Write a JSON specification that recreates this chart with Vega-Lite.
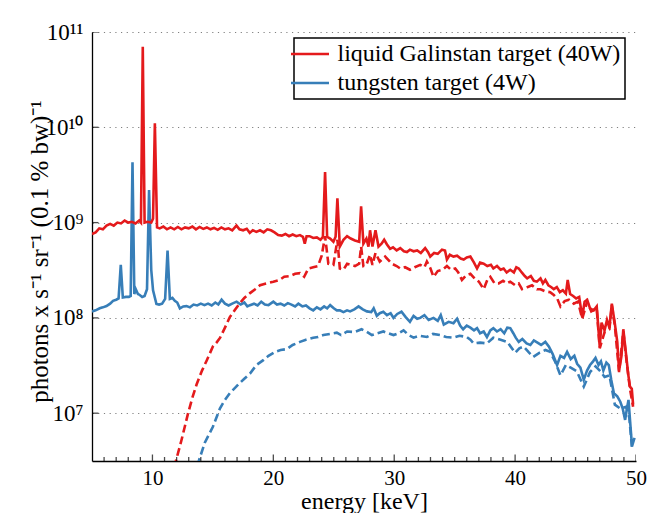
{
  "$schema": "https://vega.github.io/schema/vega-lite/v6.json",
  "autosize": {"type": "none"},
  "padding": {"left": 92, "top": 32, "right": 15, "bottom": 52},
  "width": 544,
  "height": 429,
  "background": "white",
  "config": {
    "font": "Liberation Serif",
    "view": {"stroke": null},
    "axis": {"labelFont": "Liberation Serif", "titleFont": "Liberation Serif"},
    "legend": {"labelFont": "Liberation Serif", "titleFont": "Liberation Serif"}
  },
  "datasets": {
    "ga_solid": [
      {"energy":5.0,"flux":7.6e8},{"energy":5.3,"flux":7.9e8},{"energy":5.6,"flux":8.7e8},{"energy":5.9,"flux":8.5e8},{"energy":6.2,"flux":9.3e8},{"energy":6.5,"flux":9.7e8},{"energy":6.8,"flux":9.3e8},{"energy":7.1,"flux":1.0e9},{"energy":7.4,"flux":9.8e8},{"energy":7.7,"flux":1.05e9},{"energy":8.0,"flux":1.0e9},{"energy":8.3,"flux":1.02e9},{"energy":8.6,"flux":9.8e8},{"energy":8.9,"flux":1.05e9},{"energy":9.05,"flux":1.0e9},{"energy":9.2,"flux":7.0e10},{"energy":9.35,"flux":1.0e9},{"energy":9.6,"flux":1.02e9},{"energy":9.9,"flux":1.0e9},{"energy":10.05,"flux":1.1e9},{"energy":10.2,"flux":1.1e10},{"energy":10.38,"flux":8.9e8},{"energy":10.6,"flux":8.7e8},{"energy":10.9,"flux":9.1e8},{"energy":11.2,"flux":8.5e8},{"energy":11.5,"flux":8.9e8},{"energy":11.8,"flux":8.5e8},{"energy":12.1,"flux":9.0e8},{"energy":12.4,"flux":8.5e8},{"energy":12.7,"flux":8.9e8},{"energy":13.0,"flux":8.7e8},{"energy":13.3,"flux":9.1e8},{"energy":13.6,"flux":8.5e8},{"energy":13.9,"flux":9.0e8},{"energy":14.2,"flux":8.6e8},{"energy":14.5,"flux":8.9e8},{"energy":14.8,"flux":8.5e8},{"energy":15.1,"flux":8.8e8},{"energy":15.4,"flux":8.4e8},{"energy":15.7,"flux":8.9e8},{"energy":16.0,"flux":8.5e8},{"energy":16.3,"flux":8.7e8},{"energy":16.6,"flux":8.3e8},{"energy":16.95,"flux":9.3e8},{"energy":17.2,"flux":8.5e8},{"energy":17.5,"flux":8.3e8},{"energy":17.8,"flux":8.6e8},{"energy":18.05,"flux":7.8e8},{"energy":18.3,"flux":8.3e8},{"energy":18.6,"flux":8.0e8},{"energy":18.9,"flux":8.3e8},{"energy":19.2,"flux":7.9e8},{"energy":19.5,"flux":8.5e8},{"energy":19.8,"flux":8.3e8},{"energy":20.1,"flux":7.9e8},{"energy":20.4,"flux":7.4e8},{"energy":20.7,"flux":7.3e8},{"energy":21.0,"flux":7.6e8},{"energy":21.3,"flux":7.2e8},{"energy":21.6,"flux":7.5e8},{"energy":21.9,"flux":7.2e8},{"energy":22.2,"flux":7.4e8},{"energy":22.45,"flux":7.1e8},{"energy":22.6,"flux":6.0e8},{"energy":22.75,"flux":7.2e8},{"energy":23.0,"flux":7.2e8},{"energy":23.3,"flux":6.9e8},{"energy":23.6,"flux":7.0e8},{"energy":23.9,"flux":6.6e8},{"energy":24.1,"flux":7.1e8},{"energy":24.28,"flux":3.4e9},{"energy":24.45,"flux":7.1e8},{"energy":24.7,"flux":6.8e8},{"energy":24.97,"flux":6.3e8},{"energy":25.15,"flux":7.1e8},{"energy":25.3,"flux":1.8e9},{"energy":25.5,"flux":5.6e8},{"energy":25.8,"flux":6.6e8},{"energy":26.1,"flux":7.2e8},{"energy":26.4,"flux":6.8e8},{"energy":26.75,"flux":6.5e8},{"energy":27.1,"flux":6.3e8},{"energy":27.26,"flux":1.48e9},{"energy":27.45,"flux":6.0e8},{"energy":27.7,"flux":6.8e8},{"energy":27.87,"flux":5.6e8},{"energy":28.0,"flux":8.3e8},{"energy":28.2,"flux":5.6e8},{"energy":28.45,"flux":8.3e8},{"energy":28.7,"flux":5.6e8},{"energy":28.95,"flux":6.0e8},{"energy":29.17,"flux":6.6e8},{"energy":29.4,"flux":5.9e8},{"energy":29.66,"flux":5.3e8},{"energy":29.9,"flux":5.5e8},{"energy":30.2,"flux":5.1e8},{"energy":30.5,"flux":5.4e8},{"energy":30.8,"flux":5.0e8},{"energy":31.05,"flux":4.9e8},{"energy":31.3,"flux":5.2e8},{"energy":31.6,"flux":5.0e8},{"energy":31.9,"flux":5.1e8},{"energy":32.2,"flux":4.8e8},{"energy":32.56,"flux":5.4e8},{"energy":32.8,"flux":4.9e8},{"energy":32.98,"flux":4.4e8},{"energy":33.3,"flux":4.8e8},{"energy":33.6,"flux":4.7e8},{"energy":33.95,"flux":5.2e8},{"energy":34.2,"flux":5.1e8},{"energy":34.36,"flux":4.1e8},{"energy":34.6,"flux":4.6e8},{"energy":34.9,"flux":4.4e8},{"energy":35.2,"flux":4.5e8},{"energy":35.5,"flux":4.2e8},{"energy":35.75,"flux":4.1e8},{"energy":36.0,"flux":4.3e8},{"energy":36.3,"flux":4.4e8},{"energy":36.6,"flux":3.8e8},{"energy":36.85,"flux":3.3e8},{"energy":37.1,"flux":3.8e8},{"energy":37.4,"flux":3.7e8},{"energy":37.7,"flux":3.5e8},{"energy":38.0,"flux":3.6e8},{"energy":38.2,"flux":3.3e8},{"energy":38.5,"flux":3.5e8},{"energy":38.8,"flux":3.2e8},{"energy":39.05,"flux":3.3e8},{"energy":39.3,"flux":3.0e8},{"energy":39.6,"flux":3.2e8},{"energy":39.9,"flux":3.0e8},{"energy":40.1,"flux":3.4e8},{"energy":40.3,"flux":3.3e8},{"energy":40.55,"flux":3.0e8},{"energy":40.8,"flux":2.75e8},{"energy":41.0,"flux":2.6e8},{"energy":41.3,"flux":2.75e8},{"energy":41.55,"flux":2.45e8},{"energy":41.8,"flux":2.4e8},{"energy":42.1,"flux":2.6e8},{"energy":42.3,"flux":2.3e8},{"energy":42.5,"flux":2.5e8},{"energy":42.75,"flux":2.2e8},{"energy":43.0,"flux":2.1e8},{"energy":43.2,"flux":2.0e8},{"energy":43.45,"flux":2.1e8},{"energy":43.7,"flux":1.86e8},{"energy":43.95,"flux":1.95e8},{"energy":44.2,"flux":1.8e8},{"energy":44.35,"flux":2.5e8},{"energy":44.55,"flux":1.78e8},{"energy":44.8,"flux":1.7e8},{"energy":45.05,"flux":1.6e8},{"energy":45.3,"flux":1.66e8},{"energy":45.55,"flux":1.02e8},{"energy":45.75,"flux":1.48e8},{"energy":45.96,"flux":1.55e8},{"energy":46.2,"flux":1.26e8},{"energy":46.5,"flux":1.2e8},{"energy":46.75,"flux":1.32e8},{"energy":47.0,"flux":5.0e7},{"energy":47.15,"flux":8.9e7},{"energy":47.4,"flux":7.4e7},{"energy":47.6,"flux":9.5e7},{"energy":47.8,"flux":7.9e7},{"energy":48.0,"flux":1.41e8},{"energy":48.25,"flux":8.7e7},{"energy":48.45,"flux":5.6e7},{"energy":48.6,"flux":2.8e7},{"energy":48.8,"flux":4.0e7},{"energy":48.95,"flux":7.6e7},{"energy":49.2,"flux":3.9e7},{"energy":49.35,"flux":2.6e7},{"energy":49.5,"flux":1.9e7},{"energy":49.65,"flux":1.8e7},{"energy":49.76,"flux":1.23e7}
    ],
    "ga_dashed": [
      {"energy":11.8,"flux":2.7e6},{"energy":12.4,"flux":5.2e6},{"energy":12.95,"flux":1.0e7},{"energy":13.3,"flux":1.45e7},{"energy":13.65,"flux":2.0e7},{"energy":14.1,"flux":2.8e7},{"energy":14.5,"flux":3.6e7},{"energy":15.0,"flux":5.0e7},{"energy":15.3,"flux":5.5e7},{"energy":15.6,"flux":6.2e7},{"energy":16.0,"flux":7.9e7},{"energy":16.4,"flux":1.02e8},{"energy":16.8,"flux":1.2e8},{"energy":17.2,"flux":1.41e8},{"energy":17.6,"flux":1.62e8},{"energy":18.07,"flux":1.82e8},{"energy":18.5,"flux":2.0e8},{"energy":18.9,"flux":2.2e8},{"energy":19.4,"flux":2.3e8},{"energy":20.0,"flux":2.4e8},{"energy":20.5,"flux":2.5e8},{"energy":20.9,"flux":2.7e8},{"energy":21.4,"flux":2.75e8},{"energy":21.8,"flux":2.9e8},{"energy":22.2,"flux":2.95e8},{"energy":22.55,"flux":2.7e8},{"energy":22.9,"flux":3.3e8},{"energy":23.3,"flux":3.4e8},{"energy":23.7,"flux":3.5e8},{"energy":24.0,"flux":4.5e8},{"energy":24.28,"flux":7.2e8},{"energy":24.55,"flux":3.7e8},{"energy":24.97,"flux":3.6e8},{"energy":25.3,"flux":6.6e8},{"energy":25.5,"flux":3.3e8},{"energy":25.8,"flux":3.2e8},{"energy":26.1,"flux":3.7e8},{"energy":26.4,"flux":3.6e8},{"energy":26.75,"flux":3.5e8},{"energy":27.1,"flux":3.7e8},{"energy":27.26,"flux":5.6e8},{"energy":27.45,"flux":3.5e8},{"energy":27.7,"flux":3.6e8},{"energy":28.0,"flux":4.6e8},{"energy":28.2,"flux":3.6e8},{"energy":28.45,"flux":4.8e8},{"energy":28.8,"flux":3.9e8},{"energy":29.25,"flux":4.4e8},{"energy":29.8,"flux":3.7e8},{"energy":30.2,"flux":3.5e8},{"energy":30.5,"flux":3.3e8},{"energy":30.9,"flux":3.4e8},{"energy":31.3,"flux":3.2e8},{"energy":31.7,"flux":3.4e8},{"energy":32.15,"flux":3.6e8},{"energy":32.5,"flux":3.4e8},{"energy":32.7,"flux":3.9e8},{"energy":33.0,"flux":3.3e8},{"energy":33.25,"flux":2.7e8},{"energy":33.6,"flux":3.1e8},{"energy":34.0,"flux":3.2e8},{"energy":34.36,"flux":3.5e8},{"energy":34.7,"flux":3.2e8},{"energy":35.05,"flux":3.3e8},{"energy":35.3,"flux":3.0e8},{"energy":35.6,"flux":2.5e8},{"energy":35.95,"flux":2.8e8},{"energy":36.3,"flux":2.9e8},{"energy":36.65,"flux":2.6e8},{"energy":37.0,"flux":2.4e8},{"energy":37.4,"flux":2.0e8},{"energy":37.7,"flux":2.5e8},{"energy":37.95,"flux":2.7e8},{"energy":38.3,"flux":2.3e8},{"energy":38.64,"flux":2.3e8},{"energy":39.0,"flux":2.45e8},{"energy":39.3,"flux":2.3e8},{"energy":39.6,"flux":2.4e8},{"energy":40.0,"flux":2.2e8},{"energy":40.3,"flux":2.3e8},{"energy":40.57,"flux":2.0e8},{"energy":41.0,"flux":2.1e8},{"energy":41.4,"flux":2.2e8},{"energy":41.8,"flux":2.0e8},{"energy":42.1,"flux":2.0e8},{"energy":42.5,"flux":1.9e8},{"energy":42.9,"flux":1.86e8},{"energy":43.2,"flux":1.74e8},{"energy":43.5,"flux":1.58e8},{"energy":43.75,"flux":1.32e8},{"energy":44.1,"flux":1.5e8},{"energy":44.45,"flux":1.55e8},{"energy":44.85,"flux":1.41e8},{"energy":45.2,"flux":1.48e8},{"energy":45.55,"flux":9.8e7},{"energy":45.96,"flux":1.48e8},{"energy":46.3,"flux":1.17e8},{"energy":46.75,"flux":1.26e8},{"energy":47.0,"flux":4.8e7},{"energy":47.4,"flux":7.1e7},{"energy":47.8,"flux":7.6e7},{"energy":48.0,"flux":1.35e8},{"energy":48.25,"flux":8.3e7},{"energy":48.6,"flux":2.7e7},{"energy":48.95,"flux":7.2e7},{"energy":49.2,"flux":3.7e7},{"energy":49.5,"flux":1.8e7},{"energy":49.76,"flux":1.17e7}
    ],
    "w_solid": [
      {"energy":5.0,"flux":1.17e8},{"energy":5.3,"flux":1.2e8},{"energy":5.64,"flux":1.26e8},{"energy":5.9,"flux":1.29e8},{"energy":6.2,"flux":1.33e8},{"energy":6.5,"flux":1.41e8},{"energy":6.74,"flux":1.51e8},{"energy":7.0,"flux":1.55e8},{"energy":7.2,"flux":1.6e8},{"energy":7.38,"flux":3.6e8},{"energy":7.55,"flux":1.64e8},{"energy":7.8,"flux":1.66e8},{"energy":8.05,"flux":1.66e8},{"energy":8.2,"flux":1.7e8},{"energy":8.35,"flux":4.3e9},{"energy":8.5,"flux":1.78e8},{"energy":8.62,"flux":2.0e8},{"energy":8.8,"flux":1.78e8},{"energy":8.95,"flux":1.74e8},{"energy":9.15,"flux":1.66e8},{"energy":9.35,"flux":1.7e8},{"energy":9.55,"flux":2.0e8},{"energy":9.72,"flux":2.2e9},{"energy":9.9,"flux":3.2e8},{"energy":10.05,"flux":1.95e8},{"energy":10.33,"flux":1.4e8},{"energy":10.55,"flux":1.38e8},{"energy":10.8,"flux":1.41e8},{"energy":11.05,"flux":1.58e8},{"energy":11.25,"flux":5.1e8},{"energy":11.44,"flux":1.58e8},{"energy":11.65,"flux":1.62e8},{"energy":11.85,"flux":1.51e8},{"energy":12.05,"flux":1.45e8},{"energy":12.27,"flux":1.26e8},{"energy":12.55,"flux":1.32e8},{"energy":12.82,"flux":1.33e8},{"energy":13.1,"flux":1.29e8},{"energy":13.4,"flux":1.38e8},{"energy":13.7,"flux":1.35e8},{"energy":14.0,"flux":1.41e8},{"energy":14.3,"flux":1.36e8},{"energy":14.6,"flux":1.41e8},{"energy":14.9,"flux":1.35e8},{"energy":15.2,"flux":1.45e8},{"energy":15.45,"flux":1.38e8},{"energy":15.72,"flux":1.55e8},{"energy":16.0,"flux":1.41e8},{"energy":16.3,"flux":1.35e8},{"energy":16.6,"flux":1.41e8},{"energy":16.96,"flux":1.48e8},{"energy":17.3,"flux":1.38e8},{"energy":17.6,"flux":1.45e8},{"energy":17.85,"flux":1.32e8},{"energy":18.07,"flux":1.36e8},{"energy":18.4,"flux":1.41e8},{"energy":18.7,"flux":1.35e8},{"energy":19.0,"flux":1.48e8},{"energy":19.3,"flux":1.38e8},{"energy":19.6,"flux":1.36e8},{"energy":20.0,"flux":1.48e8},{"energy":20.3,"flux":1.38e8},{"energy":20.6,"flux":1.41e8},{"energy":20.9,"flux":1.35e8},{"energy":21.2,"flux":1.43e8},{"energy":21.5,"flux":1.38e8},{"energy":21.8,"flux":1.32e8},{"energy":22.07,"flux":1.41e8},{"energy":22.4,"flux":1.32e8},{"energy":22.7,"flux":1.35e8},{"energy":23.0,"flux":1.26e8},{"energy":23.3,"flux":1.2e8},{"energy":23.6,"flux":1.29e8},{"energy":23.9,"flux":1.23e8},{"energy":24.2,"flux":1.32e8},{"energy":24.45,"flux":1.26e8},{"energy":24.7,"flux":1.36e8},{"energy":25.0,"flux":1.26e8},{"energy":25.25,"flux":1.2e8},{"energy":25.5,"flux":1.2e8},{"energy":25.8,"flux":1.15e8},{"energy":26.1,"flux":1.2e8},{"energy":26.35,"flux":1.17e8},{"energy":26.7,"flux":1.23e8},{"energy":27.05,"flux":1.32e8},{"energy":27.4,"flux":1.23e8},{"energy":27.74,"flux":1.17e8},{"energy":28.1,"flux":1.15e8},{"energy":28.3,"flux":1.26e8},{"energy":28.56,"flux":1.05e8},{"energy":28.8,"flux":1.12e8},{"energy":29.1,"flux":1.16e8},{"energy":29.4,"flux":1.07e8},{"energy":29.7,"flux":1.12e8},{"energy":29.94,"flux":1.0e8},{"energy":30.25,"flux":1.1e8},{"energy":30.6,"flux":1.16e8},{"energy":30.95,"flux":1.02e8},{"energy":31.3,"flux":9.1e7},{"energy":31.6,"flux":1.05e8},{"energy":31.9,"flux":9.8e7},{"energy":32.15,"flux":1.0e8},{"energy":32.5,"flux":1.07e8},{"energy":32.85,"flux":9.5e7},{"energy":33.25,"flux":1.0e8},{"energy":33.6,"flux":9.3e7},{"energy":33.85,"flux":1.07e8},{"energy":34.1,"flux":8.5e7},{"energy":34.5,"flux":9.1e7},{"energy":34.9,"flux":8.8e7},{"energy":35.2,"flux":9.8e7},{"energy":35.45,"flux":8.3e7},{"energy":35.7,"flux":7.6e7},{"energy":36.0,"flux":8.3e7},{"energy":36.3,"flux":7.9e7},{"energy":36.6,"flux":7.4e7},{"energy":36.85,"flux":7.8e7},{"energy":37.1,"flux":6.9e7},{"energy":37.4,"flux":7.2e7},{"energy":37.67,"flux":6.3e7},{"energy":37.95,"flux":7.4e7},{"energy":38.2,"flux":7.8e7},{"energy":38.5,"flux":7.2e7},{"energy":38.8,"flux":7.6e7},{"energy":39.1,"flux":6.9e7},{"energy":39.35,"flux":7.9e7},{"energy":39.6,"flux":7.8e7},{"energy":39.85,"flux":6.9e7},{"energy":40.05,"flux":6.2e7},{"energy":40.3,"flux":5.6e7},{"energy":40.6,"flux":6.0e7},{"energy":40.95,"flux":5.4e7},{"energy":41.26,"flux":5.2e7},{"energy":41.55,"flux":5.8e7},{"energy":41.85,"flux":5.5e7},{"energy":42.15,"flux":5.2e7},{"energy":42.5,"flux":5.6e7},{"energy":42.8,"flux":5.0e7},{"energy":43.1,"flux":4.2e7},{"energy":43.47,"flux":3.2e7},{"energy":43.75,"flux":4.0e7},{"energy":44.05,"flux":3.8e7},{"energy":44.3,"flux":4.4e7},{"energy":44.6,"flux":3.7e7},{"energy":44.9,"flux":4.0e7},{"energy":45.13,"flux":3.3e7},{"energy":45.4,"flux":3.0e7},{"energy":45.68,"flux":2.24e7},{"energy":45.95,"flux":2.8e7},{"energy":46.2,"flux":3.2e7},{"energy":46.45,"flux":3.5e7},{"energy":46.65,"flux":3.8e7},{"energy":46.9,"flux":3.2e7},{"energy":47.1,"flux":3.5e7},{"energy":47.3,"flux":2.8e7},{"energy":47.55,"flux":3.4e7},{"energy":47.75,"flux":3.2e7},{"energy":47.95,"flux":2.24e7},{"energy":48.17,"flux":1.62e7},{"energy":48.45,"flux":1.5e7},{"energy":48.7,"flux":1.32e7},{"energy":48.9,"flux":1.12e7},{"energy":49.1,"flux":8.5e6},{"energy":49.25,"flux":1.12e7},{"energy":49.38,"flux":1.38e7},{"energy":49.55,"flux":7.1e6},{"energy":49.67,"flux":4.5e6},{"energy":49.88,"flux":5.5e6}
    ],
    "w_dashed": [
      {"energy":13.7,"flux":2.8e6},{"energy":14.33,"flux":4.9e6},{"energy":15.0,"flux":7.2e6},{"energy":15.58,"flux":1.12e7},{"energy":16.0,"flux":1.38e7},{"energy":16.4,"flux":1.62e7},{"energy":17.1,"flux":2.0e7},{"energy":17.6,"flux":2.3e7},{"energy":18.07,"flux":2.6e7},{"energy":18.6,"flux":3.2e7},{"energy":19.17,"flux":3.6e7},{"energy":19.6,"flux":4.0e7},{"energy":20.14,"flux":4.4e7},{"energy":20.6,"flux":4.6e7},{"energy":21.1,"flux":4.7e7},{"energy":21.6,"flux":5.2e7},{"energy":22.2,"flux":5.6e7},{"energy":22.7,"flux":5.9e7},{"energy":23.3,"flux":6.2e7},{"energy":23.7,"flux":6.3e7},{"energy":24.14,"flux":6.6e7},{"energy":24.7,"flux":6.8e7},{"energy":25.25,"flux":7.0e7},{"energy":25.6,"flux":6.6e7},{"energy":26.1,"flux":7.2e7},{"energy":26.7,"flux":7.1e7},{"energy":27.3,"flux":7.6e7},{"energy":27.7,"flux":7.2e7},{"energy":28.15,"flux":6.6e7},{"energy":28.6,"flux":6.9e7},{"energy":29.1,"flux":7.2e7},{"energy":29.5,"flux":6.9e7},{"energy":29.94,"flux":6.6e7},{"energy":30.35,"flux":6.9e7},{"energy":30.77,"flux":7.4e7},{"energy":31.2,"flux":6.6e7},{"energy":31.6,"flux":6.2e7},{"energy":32.1,"flux":6.5e7},{"energy":32.7,"flux":6.3e7},{"energy":33.2,"flux":6.8e7},{"energy":33.8,"flux":6.6e7},{"energy":34.3,"flux":6.3e7},{"energy":34.9,"flux":6.2e7},{"energy":35.4,"flux":6.5e7},{"energy":36.0,"flux":6.3e7},{"energy":36.3,"flux":5.9e7},{"energy":36.57,"flux":5.4e7},{"energy":37.1,"flux":5.5e7},{"energy":37.67,"flux":5.4e7},{"energy":38.2,"flux":6.2e7},{"energy":38.8,"flux":5.9e7},{"energy":39.35,"flux":5.6e7},{"energy":40.0,"flux":4.3e7},{"energy":40.35,"flux":4.8e7},{"energy":40.7,"flux":5.0e7},{"energy":41.1,"flux":4.4e7},{"energy":41.5,"flux":3.9e7},{"energy":42.0,"flux":4.3e7},{"energy":42.5,"flux":4.6e7},{"energy":42.9,"flux":4.4e7},{"energy":43.3,"flux":3.5e7},{"energy":43.75,"flux":2.5e7},{"energy":44.2,"flux":3.2e7},{"energy":44.6,"flux":3.0e7},{"energy":45.1,"flux":2.75e7},{"energy":45.68,"flux":1.9e7},{"energy":46.2,"flux":2.7e7},{"energy":46.65,"flux":3.1e7},{"energy":47.0,"flux":2.8e7},{"energy":47.4,"flux":2.4e7},{"energy":47.8,"flux":2.5e7},{"energy":48.25,"flux":1.23e7},{"energy":48.7,"flux":1.12e7},{"energy":49.2,"flux":1.17e7},{"energy":49.45,"flux":8.9e6},{"energy":49.67,"flux":4.3e6}
    ],
    "x_major_ticks": [{"energy":10},{"energy":20},{"energy":30},{"energy":40},{"energy":50}],
    "x_minor_ticks": [{"energy":6},{"energy":7},{"energy":8},{"energy":9},{"energy":11},{"energy":12},{"energy":13},{"energy":14},{"energy":15},{"energy":16},{"energy":17},{"energy":18},{"energy":19},{"energy":21},{"energy":22},{"energy":23},{"energy":24},{"energy":25},{"energy":26},{"energy":27},{"energy":28},{"energy":29},{"energy":31},{"energy":32},{"energy":33},{"energy":34},{"energy":35},{"energy":36},{"energy":37},{"energy":38},{"energy":39},{"energy":41},{"energy":42},{"energy":43},{"energy":44},{"energy":45},{"energy":46},{"energy":47},{"energy":48},{"energy":49}],
    "y_ticks": [{"flux":1e7},{"flux":1e8},{"flux":1e9},{"flux":1e10},{"flux":1e11}]
  },
  "layer": [
    {
      "data": {"name": "w_dashed"},
      "mark": {"type": "line", "clip": true, "strokeWidth": 2.6, "strokeDash": [8, 4]},
      "encoding": {
        "x": {
          "field": "energy", "type": "quantitative",
          "scale": {"domain": [5, 50], "nice": false, "zero": false},
          "axis": {
            "values": [10, 20, 30, 40, 50],
            "ticks": false,
            "domainColor": "black",
            "domainWidth": 1.3,
            "grid": false,
            "labelFontSize": 21,
            "labelColor": "black",
            "labelPadding": 6,
            "labelFlush": false,
            "labelOverlap": false,
            "title": "energy [keV]",
            "titleFontSize": 24,
            "titleFontWeight": "normal",
            "titleColor": "black",
            "titleBaseline": "alphabetic",
            "titleX": 272,
            "titleY": 47
          }
        },
        "y": {
          "field": "flux", "type": "quantitative",
          "scale": {"type": "log", "domain": [3150000, 100000000000], "nice": false},
          "axis": {
            "values": [10000000, 100000000, 1000000000, 10000000000, 100000000000],
            "labelExpr": "datum.value > 5e10 ? '10¹¹' : datum.value > 5e9 ? '10¹⁰' : datum.value > 5e8 ? '10⁹' : datum.value > 5e7 ? '10⁸' : '10⁷'",
            "ticks": false,
            "domainColor": "black",
            "domainWidth": 1.3,
            "grid": true,
            "gridDash": [1.2, 4.5],
            "gridColor": "#808080",
            "gridWidth": 1,
            "labelFontSize": 23,
            "labelColor": "black",
            "labelPadding": 9,
            "labelFlush": false,
            "labelOverlap": false,
            "title": "photons x s⁻¹ sr⁻¹ (0.1 % bw)⁻¹",
            "titleFontSize": 25,
            "titleFontWeight": "normal",
            "titleColor": "black",
            "titleBaseline": "alphabetic",
            "titleX": -45,
            "titleY": 219
          }
        },
        "color": {"datum": "tungsten target (4W)", "type": "nominal",
          "scale": {"domain": ["liquid Galinstan target (40W)", "tungsten target (4W)"], "range": ["#e41a1c", "#377eb8"]}}
      }
    },
    {
      "data": {"name": "ga_dashed"},
      "mark": {"type": "line", "clip": true, "strokeWidth": 2.6, "strokeDash": [8, 4]},
      "encoding": {
        "x": {"field": "energy", "type": "quantitative"},
        "y": {"field": "flux", "type": "quantitative"},
        "color": {"datum": "liquid Galinstan target (40W)", "type": "nominal"}
      }
    },
    {
      "data": {"name": "w_solid"},
      "mark": {"type": "line", "clip": true, "strokeWidth": 2.6},
      "encoding": {
        "x": {"field": "energy", "type": "quantitative"},
        "y": {"field": "flux", "type": "quantitative"},
        "color": {"datum": "tungsten target (4W)", "type": "nominal"}
      }
    },
    {
      "data": {"name": "ga_solid"},
      "mark": {"type": "line", "clip": true, "strokeWidth": 2.6},
      "encoding": {
        "x": {"field": "energy", "type": "quantitative"},
        "y": {"field": "flux", "type": "quantitative"},
        "color": {"datum": "liquid Galinstan target (40W)", "type": "nominal",
          "legend": {
            "orient": "none",
            "legendX": 202,
            "legendY": 6,
            "title": null,
            "symbolType": "M-2,0H2",
            "symbolSize": 361,
            "symbolStrokeWidth": 2.6,
            "symbolDash": [1, 0],
            "labelFontSize": 24,
            "labelColor": "black",
            "labelOffset": 15.5,
            "labelLimit": 0,
            "padding": 4,
            "rowPadding": 5,
            "strokeColor": "black",
            "fillColor": "white",
            "encode": {"legend": {"update": {"strokeWidth": {"value": 1.5}}}}
          }
        }
      }
    },
    {
      "data": {"name": "x_major_ticks"},
      "mark": {"type": "tick", "orient": "vertical", "size": 13, "thickness": 1.3, "color": "black", "clip": true},
      "encoding": {
        "x": {"field": "energy", "type": "quantitative"},
        "y": {"datum": 3150000, "type": "quantitative"}
      }
    },
    {
      "data": {"name": "x_minor_ticks"},
      "mark": {"type": "tick", "orient": "vertical", "size": 8, "thickness": 1.3, "color": "black", "clip": true},
      "encoding": {
        "x": {"field": "energy", "type": "quantitative"},
        "y": {"datum": 3150000, "type": "quantitative"}
      }
    },
    {
      "data": {"name": "y_ticks"},
      "mark": {"type": "tick", "orient": "horizontal", "size": 13, "thickness": 1.3, "color": "black", "clip": true},
      "encoding": {
        "x": {"datum": 5, "type": "quantitative"},
        "y": {"field": "flux", "type": "quantitative"}
      }
    }
  ]
}
